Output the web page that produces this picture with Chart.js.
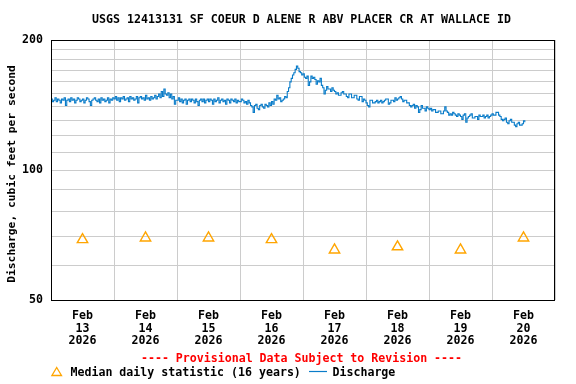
<!DOCTYPE html>
<html>
<head>
<meta charset="utf-8">
<script src="https://cdn.jsdelivr.net/npm/chart.js@4"></script>
<style>
html,body{margin:0;padding:0;background:#fff;}
canvas{display:block;}
</style>
</head>
<body>
<canvas id="c" width="576" height="384"></canvas>
<script>
// ---- data ----
const titleText = 'USGS 12413131 SF COEUR D ALENE R ABV PLACER CR AT WALLACE ID';
const yAxisTitle = 'Discharge, cubic feet per second';
const monthLabel = 'Feb';
const yearLabel = '2026';
const dayLabels = ['13','14','15','16','17','18','19','20'];
const yTickValues = [50,60,70,80,90,100,110,120,130,140,150,160,170,180,190,200];
const yTickLabels = [50,100,200];
// half-hourly discharge, cfs (48 readings per day)
const dischargeFeb13 = [146,144,145,147,144,146,145,143,146,145,147,141,145,146,144,147,145,146,143,145,147,146,144,145,
  146,143,145,147,146,144,141,145,146,147,145,144,146,143,147,145,146,144,145,147,143,146,145,147];
const dischargeFeb14 = [146,148,145,147,144,147,146,148,145,146,147,144,148,146,147,145,146,148,143,147,148,146,147,145,
  149,146,147,145,148,146,147,149,146,148,150,147,152,148,154,150,149,151,147,150,146,148,142,145];
const dischargeFeb15 = [145,147,144,146,143,145,146,142,145,146,144,146,145,143,146,144,141,145,146,144,146,143,145,146,
  144,146,145,142,146,144,145,147,143,145,146,144,145,142,146,145,143,146,145,144,146,143,145,144];
const dischargeFeb16 = [144,146,145,143,144,142,145,143,141,140,136,141,142,139,138,141,142,140,139,142,141,140,143,141,
  144,142,146,145,149,146,147,144,145,146,148,147,152,155,160,163,166,168,171,174,172,169,168,166];
const dischargeFeb17 = [167,164,163,165,157,160,165,163,164,162,158,161,160,163,157,155,150,153,156,154,154,152,155,153,
  152,150,151,149,149,151,152,150,150,148,147,150,150,147,147,149,149,146,145,148,148,144,146,145];
const dischargeFeb18 = [143,141,140,145,145,143,143,144,145,143,144,145,143,144,145,146,146,142,143,145,145,144,147,145,
  146,147,148,146,144,145,145,143,143,141,140,141,142,139,141,140,136,138,141,139,139,137,140,139];
const dischargeFeb19 = [138,139,137,138,138,136,136,137,137,135,135,137,140,137,136,134,135,134,136,135,134,133,135,134,
  133,131,134,135,129,132,133,134,135,132,132,133,133,131,134,133,133,134,132,133,134,132,133,134];
const dischargeFeb20 = [135,134,134,136,136,134,133,131,130,131,132,129,128,130,131,129,129,127,126,128,129,127,127,128,130,129];
// median daily statistic (16 years), cfs
const medianValues = [69,69.6,69.6,69,65.3,66.4,65.3,69.6];

const discharge = [].concat(dischargeFeb13,dischargeFeb14,dischargeFeb15,dischargeFeb16,
  dischargeFeb17,dischargeFeb18,dischargeFeb19,dischargeFeb20);
const HOURS_PER_READING = 0.5;

const FONT = '"DejaVu Sans Mono", monospace';
const BLUE = '#0a7cc9';
const ORANGE = '#ffa500';

const textPlugin = {
  id: 'usgsText',
  afterDatasetsDraw(chart) {
    const {ctx, chartArea: a} = chart;
    ctx.save();
    ctx.strokeStyle = '#000';
    ctx.lineWidth = 1;
    ctx.strokeRect(Math.round(a.left)+0.5, Math.round(a.top)+0.5,
      Math.round(a.right-a.left)-1, Math.round(a.bottom-a.top));
    ctx.restore();
  },
  afterDraw(chart) {
    const ctx = chart.ctx;
    ctx.save();
    ctx.font = 'bold 11.6px ' + FONT;
    ctx.fillStyle = '#000';
    ctx.textAlign = 'center';
    ctx.textBaseline = 'middle';
    ctx.fillText(titleText, 301.5, 20);
    ctx.save();
    ctx.translate(12, 174);
    ctx.rotate(-Math.PI/2);
    ctx.font = 'bold 11.3px ' + FONT;
    ctx.fillText(yAxisTitle, 0, 0);
    ctx.restore();
    ctx.fillStyle = '#ff0000';
    ctx.fillText('---- Provisional Data Subject to Revision ----', 301.5, 359);
    ctx.strokeStyle = ORANGE;
    ctx.lineWidth = 1.3;
    ctx.beginPath();
    ctx.moveTo(56.7, 367.5);
    ctx.lineTo(61.5, 375.5);
    ctx.lineTo(51.9, 375.5);
    ctx.closePath();
    ctx.stroke();
    ctx.fillStyle = '#000';
    ctx.textAlign = 'left';
    ctx.fillText('Median daily statistic (16 years)', 70.5, 372.5);
    ctx.strokeStyle = BLUE;
    ctx.lineWidth = 1.2;
    ctx.beginPath();
    ctx.moveTo(309, 371.5);
    ctx.lineTo(327, 371.5);
    ctx.stroke();
    ctx.fillText('Discharge', 332.5, 372.5);
    ctx.restore();
  }
};

new Chart(document.getElementById('c'), {
  type: 'line',
  data: {
    datasets: [
      {
        label: 'Discharge',
        data: discharge.map((v,i)=>({x:i*HOURS_PER_READING, y:v})),
        borderColor: BLUE,
        borderWidth: 1.1,
        pointRadius: 0,
        stepped: true,
        fill: false,
        order: 2
      },
      {
        label: 'Median daily statistic (16 years)',
        data: medianValues.map((v,i)=>({x:12+24*i, y:v})),
        showLine: false,
        pointStyle: 'triangle',
        pointRadius: 6,
        pointBorderWidth: 1.4,
        borderColor: ORANGE,
        pointBorderColor: ORANGE,
        pointBackgroundColor: 'rgba(0,0,0,0)',
        backgroundColor: 'rgba(0,0,0,0)',
        order: 1
      }
    ]
  },
  options: {
    responsive: false,
    animation: false,
    devicePixelRatio: 1,
    layout: {padding: {left: 0, right: 21, top: 40, bottom: 0}},
    plugins: {legend: {display: false}, title: {display: false}, tooltip: {enabled: false}},
    scales: {
      x: {
        type: 'linear',
        min: 0, max: 192,
        afterBuildTicks(s) {
          const t = [];
          for (let v = 0; v <= 192; v += 12) t.push({value: v});
          s.ticks = t;
        },
        afterFit(s) { s.height = 84; },
        grid: {
          color: (c) => (c.tick && c.tick.value % 24 === 0) ? '#cccccc' : 'rgba(0,0,0,0)',
          lineWidth: 1,
          drawTicks: false
        },
        border: {display: false},
        ticks: {
          autoSkip: false,
          maxRotation: 0,
          minRotation: 0,
          padding: 9,
          color: '#000',
          font: {family: FONT, size: 11.6, weight: 'bold', lineHeight: 1.12},
          callback: (v) => {
            if (v % 24 !== 12) return '';
            return [monthLabel, dayLabels[Math.floor(v/24)], yearLabel];
          }
        }
      },
      y: {
        type: 'logarithmic',
        min: 50, max: 200,
        afterBuildTicks(s) { s.ticks = yTickValues.map(v=>({value:v})); },
        afterFit(s) { s.width = 51; },
        grid: {color: '#cccccc', lineWidth: 1, drawTicks: false},
        border: {display: false},
        ticks: {
          autoSkip: false,
          padding: 8,
          color: '#000',
          font: {family: FONT, size: 11.6, weight: 'bold'},
          callback: (v) => yTickLabels.includes(v) ? String(v) : ''
        }
      }
    }
  },
  plugins: [textPlugin]
});
</script>
</body>
</html>
